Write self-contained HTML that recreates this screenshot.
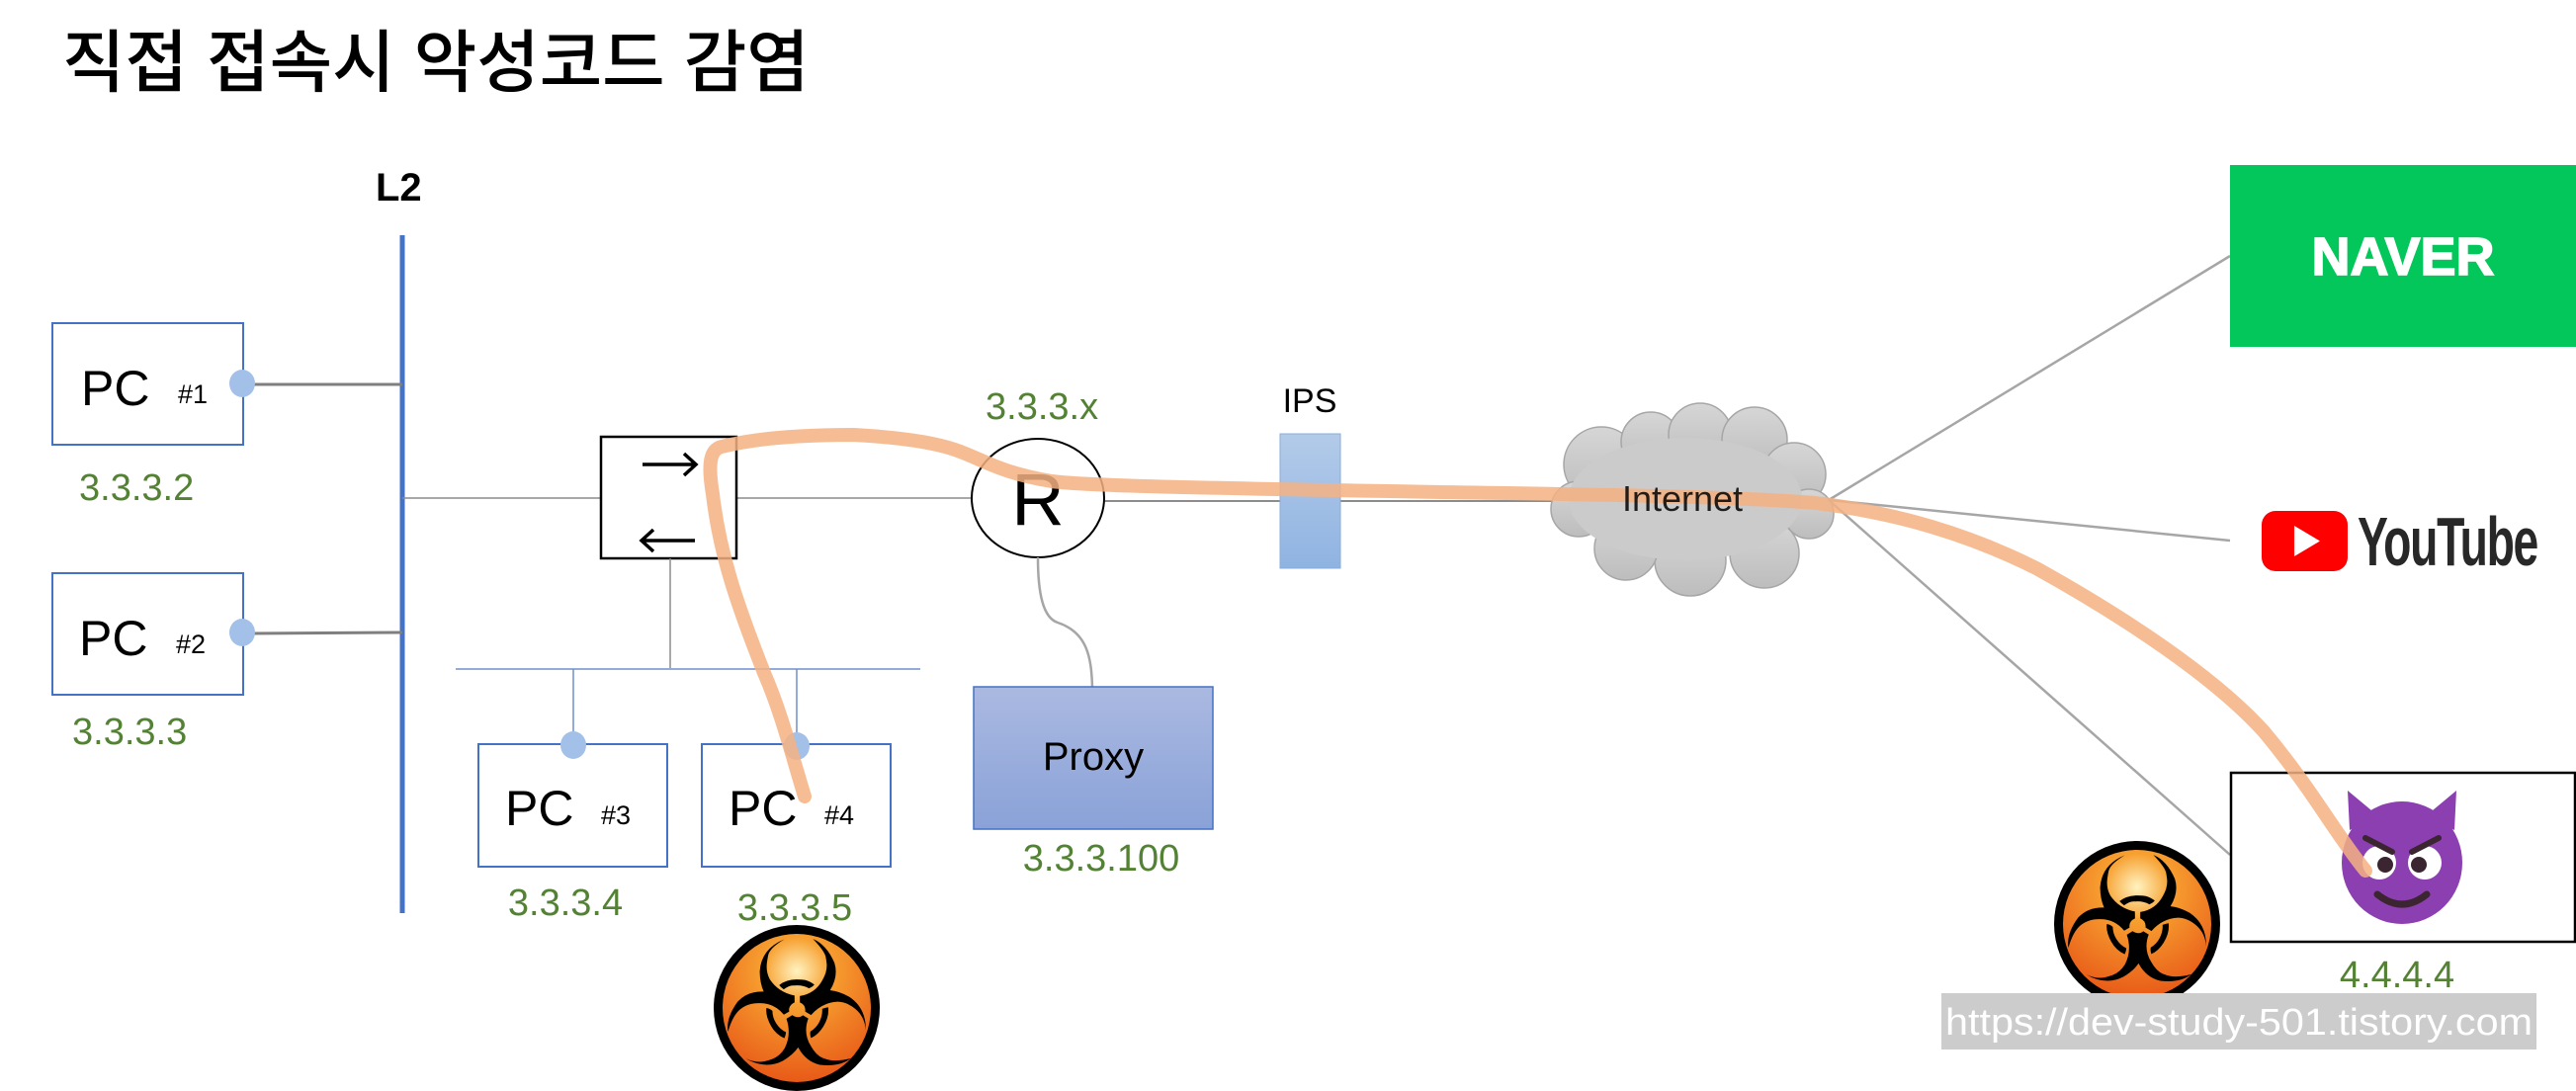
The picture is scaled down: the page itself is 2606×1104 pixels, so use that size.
<!DOCTYPE html>
<html><head><meta charset="utf-8"><style>
html,body{margin:0;padding:0;background:#fff;}
svg{display:block;}
</style></head><body>
<svg width="2606" height="1104" viewBox="0 0 2606 1104" xmlns="http://www.w3.org/2000/svg">
<defs>
<radialGradient id="bio" cx="50%" cy="25%" r="75%">
<stop offset="0" stop-color="#fff3c0"/><stop offset="0.3" stop-color="#f7a030"/><stop offset="1" stop-color="#e85a18"/>
</radialGradient>
<linearGradient id="px" x1="0" y1="0" x2="0" y2="1"><stop offset="0" stop-color="#aab9e1"/><stop offset="1" stop-color="#8aa2d8"/></linearGradient>
<linearGradient id="ips" x1="0" y1="0" x2="0" y2="1"><stop offset="0" stop-color="#b3cbe9"/><stop offset="1" stop-color="#8fb3e2"/></linearGradient>
<linearGradient id="cl" x1="0" y1="0" x2="0" y2="1"><stop offset="0" stop-color="#d6d6d6"/><stop offset="1" stop-color="#bdbdbd"/></linearGradient>
<g id="bh">
<circle r="84" fill="#000"/>
<circle r="75" fill="url(#bio)"/>
<text x="0" y="58" font-family="DejaVu Sans, sans-serif" font-size="175" text-anchor="middle" fill="#000">☣</text>
</g>
</defs>

<text x="63" y="87" font-family="Liberation Sans, Noto Sans CJK KR, sans-serif" font-size="69" font-weight="500" fill="#000">직접 접속시 악성코드 감염</text>

<text x="380" y="203" font-family="Liberation Sans, sans-serif" font-size="40" font-weight="bold" fill="#000">L2</text>
<line x1="407" y1="238" x2="407" y2="924" stroke="#4472c4" stroke-width="5"/>

<!-- PC1 -->
<rect x="53" y="327" width="193" height="123" fill="#fff" stroke="#4472c4" stroke-width="2"/>
<text x="82" y="410" font-family="Liberation Sans, sans-serif" font-size="50" fill="#000">PC</text>
<text x="180" y="408" font-family="Liberation Sans, sans-serif" font-size="27" fill="#000">#1</text>
<line x1="244" y1="389" x2="407" y2="389" stroke="#7f7f7f" stroke-width="3"/>
<ellipse cx="245" cy="388" rx="13" ry="14" fill="#a3c0e8"/>
<text x="80" y="506" font-family="Liberation Sans, sans-serif" font-size="38" fill="#548235">3.3.3.2</text>

<!-- PC2 -->
<rect x="53" y="580" width="193" height="123" fill="#fff" stroke="#4472c4" stroke-width="2"/>
<text x="80" y="663" font-family="Liberation Sans, sans-serif" font-size="50" fill="#000">PC</text>
<text x="178" y="661" font-family="Liberation Sans, sans-serif" font-size="27" fill="#000">#2</text>
<line x1="244" y1="641" x2="407" y2="640" stroke="#7f7f7f" stroke-width="3"/>
<ellipse cx="245" cy="640" rx="13" ry="14" fill="#a3c0e8"/>
<text x="73" y="753" font-family="Liberation Sans, sans-serif" font-size="38" fill="#548235">3.3.3.3</text>

<!-- switch -->
<line x1="407" y1="504" x2="608" y2="504" stroke="#8c8c8c" stroke-width="1.5"/>
<line x1="745" y1="504" x2="985" y2="504" stroke="#8c8c8c" stroke-width="1.5"/>
<rect x="608" y="442" width="137" height="123" fill="#fff" stroke="#000" stroke-width="2.5"/>
<path d="M650 470 L703 470 M692 459 L704 470 L692 481" fill="none" stroke="#000" stroke-width="3.5"/>
<path d="M703 547 L650 547 M661 536 L649 547 L661 558" fill="none" stroke="#000" stroke-width="3.5"/>
<line x1="678" y1="565" x2="678" y2="676" stroke="#8c8c8c" stroke-width="1.5"/>
<line x1="461" y1="677" x2="931" y2="677" stroke="#6f8fcc" stroke-width="1.5"/>
<line x1="580" y1="677" x2="580" y2="753" stroke="#6f8fcc" stroke-width="1.5"/>
<line x1="806" y1="677" x2="806" y2="753" stroke="#6f8fcc" stroke-width="1.5"/>

<rect x="484" y="753" width="191" height="124" fill="#fff" stroke="#4472c4" stroke-width="2"/>
<text x="511" y="835" font-family="Liberation Sans, sans-serif" font-size="50" fill="#000">PC</text>
<text x="608" y="834" font-family="Liberation Sans, sans-serif" font-size="27" fill="#000">#3</text>
<ellipse cx="580" cy="754" rx="13" ry="14" fill="#a3c0e8"/>
<rect x="710" y="753" width="191" height="124" fill="#fff" stroke="#4472c4" stroke-width="2"/>
<text x="737" y="835" font-family="Liberation Sans, sans-serif" font-size="50" fill="#000">PC</text>
<text x="834" y="834" font-family="Liberation Sans, sans-serif" font-size="27" fill="#000">#4</text>
<ellipse cx="806" cy="755" rx="13" ry="14" fill="#a3c0e8"/>
<text x="572" y="926" font-family="Liberation Sans, sans-serif" font-size="38" text-anchor="middle" fill="#548235">3.3.3.4</text>
<text x="804" y="931" font-family="Liberation Sans, sans-serif" font-size="38" text-anchor="middle" fill="#548235">3.3.3.5</text>

<!-- router -->
<line x1="1118" y1="507" x2="1600" y2="507" stroke="#8c8c8c" stroke-width="2"/>
<ellipse cx="1050" cy="504" rx="67" ry="60" fill="#fff" stroke="#000" stroke-width="2"/>
<text x="1050" y="531" font-family="Liberation Sans, sans-serif" font-size="74" text-anchor="middle" fill="#000">R</text>
<text x="997" y="424" font-family="Liberation Sans, sans-serif" font-size="38" fill="#548235">3.3.3.x</text>
<path d="M1050 564 C1050 600 1055 625 1070 630 C1100 640 1104 665 1105 695" fill="none" stroke="#a6a6a6" stroke-width="2.5"/>

<!-- proxy -->
<rect x="985" y="695" width="242" height="144" fill="url(#px)" stroke="#4472c4" stroke-width="1.5"/>
<text x="1106" y="779" font-family="Liberation Sans, sans-serif" font-size="40" text-anchor="middle" fill="#000">Proxy</text>
<text x="1114" y="881" font-family="Liberation Sans, sans-serif" font-size="38" text-anchor="middle" fill="#548235">3.3.3.100</text>

<!-- IPS -->
<rect x="1295" y="439" width="61" height="136" fill="url(#ips)" stroke="#8aaedb" stroke-width="1"/>
<text x="1325" y="417" font-family="Liberation Sans, sans-serif" font-size="34" text-anchor="middle" fill="#000">IPS</text>

<!-- cloud -->
<g fill="url(#cl)" stroke="#a6a6a6" stroke-width="1.5">
<circle cx="1620" cy="470" r="38"/><circle cx="1670" cy="447" r="30"/><circle cx="1720" cy="440" r="32"/>
<circle cx="1775" cy="445" r="33"/><circle cx="1815" cy="480" r="32"/><circle cx="1830" cy="520" r="25"/>
<circle cx="1785" cy="560" r="35"/><circle cx="1710" cy="567" r="36"/><circle cx="1645" cy="555" r="32"/>
<circle cx="1597" cy="515" r="28"/>
</g>
<ellipse cx="1705" cy="505" rx="118" ry="62" fill="#cbcbcb"/>

<!-- lines to sites -->
<line x1="1850" y1="506" x2="2256" y2="259" stroke="#a6a6a6" stroke-width="2.5"/>
<line x1="1850" y1="506" x2="2256" y2="547" stroke="#a6a6a6" stroke-width="2.5"/>
<line x1="1850" y1="506" x2="2256" y2="865" stroke="#a6a6a6" stroke-width="2.5"/>

<rect x="2256" y="167" width="350" height="184" fill="#03c75a"/>
<text x="2431" y="278" font-family="Liberation Sans, sans-serif" font-size="54" font-weight="bold" text-anchor="middle" fill="#fff" stroke="#fff" stroke-width="1.5">NAVER</text>

<rect x="2288" y="517" width="87" height="61" rx="14" fill="#ff0000"/>
<polygon points="2321,532 2321,563 2347,547.5" fill="#fff"/>
<text x="2385" y="572" font-family="Liberation Sans Narrow, Liberation Sans, sans-serif" font-size="70" font-weight="bold" fill="#282828" textLength="182" lengthAdjust="spacingAndGlyphs" letter-spacing="-2">YouTube</text>

<rect x="2257" y="782" width="348" height="171" fill="#fff" stroke="#000" stroke-width="2.5"/>
<!-- devil -->
<polygon points="2377,840 2375,800 2405,825" fill="#8b3fb0"/>
<polygon points="2483,840 2485,800 2455,825" fill="#8b3fb0"/>
<ellipse cx="2430" cy="873" rx="61" ry="62" fill="#8b3fb0"/>
<ellipse cx="2407" cy="873" rx="17" ry="17" fill="#fff"/><ellipse cx="2453" cy="873" rx="17" ry="17" fill="#fff"/>
<circle cx="2413" cy="875" r="8" fill="#3a2530"/><circle cx="2447" cy="875" r="8" fill="#3a2530"/>
<path d="M2393 848 L2420 862 M2467 848 L2440 862" stroke="#3a2530" stroke-width="6" stroke-linecap="round"/>
<path d="M2405 905 Q2430 925 2455 905" fill="none" stroke="#3a2530" stroke-width="7" stroke-linecap="round"/>
<text x="2425" y="999" font-family="Liberation Sans, sans-serif" font-size="38" text-anchor="middle" fill="#548235">4.4.4.4</text>

<use href="#bh" x="2162" y="935"/>
<use href="#bh" x="806" y="1020"/>

<rect x="1964" y="1005" width="602" height="57" fill="#cccccc"/>
<text x="1968" y="1047" font-family="Liberation Sans, sans-serif" font-size="38" fill="#fff" textLength="594" lengthAdjust="spacingAndGlyphs">https://dev-study-501.tistory.com</text>

<!-- orange infection path -->
<path d="M814 806 C800 760 790 720 773 681 C745 610 728 560 721 500 C716 470 718 455 730 452 C770 442 820 440 864 440 C900 442 940 446 966 455 C995 465 1010 478 1064 487 C1110 493 1300 495 1579 500 C1700 502 1800 505 1845 510 C1920 520 1990 540 2060 575 C2150 625 2240 685 2290 740 C2340 800 2360 840 2393 881" fill="none" stroke="#f4b183" stroke-opacity="0.85" stroke-width="14" stroke-linecap="round" stroke-linejoin="round"/>
<text x="1702" y="517" font-family="Liberation Sans, sans-serif" font-size="36" text-anchor="middle" fill="#000" fill-opacity="0.85">Internet</text>
</svg>
</body></html>
